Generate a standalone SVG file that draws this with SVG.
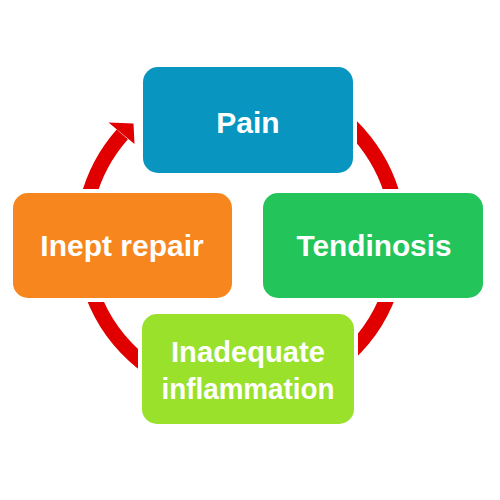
<svg xmlns="http://www.w3.org/2000/svg" width="500" height="500" viewBox="0 0 500 500">
<style>
.pad{fill:#ffffff}
.lbl{font-family:"Liberation Sans",Arial,sans-serif;font-weight:700;font-size:30px;fill:#ffffff;text-anchor:middle}
.arc{fill:none;stroke:#E00000;stroke-width:15}
</style>
<rect width="500" height="500" fill="#ffffff"/>
<g id="connectors">
<path class="arc" d="M145.44,112.97 A158,158 0 1 1 122.3,134.4"/>
<polygon points="108.5,122.5 133.5,123.5 134.5,144" fill="#E00000"/>
</g>
<g id="node-pain">
<rect class="pad" x="139" y="63" width="218" height="114" rx="19"/>
<rect x="143" y="67" width="210" height="106" rx="15" fill="#0896C0"/>
<text class="lbl" x="248" y="133">Pain</text>
</g>
<g id="node-tendinosis">
<rect class="pad" x="259" y="189" width="228" height="113" rx="19"/>
<rect x="263" y="193" width="220" height="105" rx="15" fill="#23C55A"/>
<text class="lbl" x="374" y="256" textLength="155" lengthAdjust="spacingAndGlyphs">Tendinosis</text>
</g>
<g id="node-inept">
<rect class="pad" x="9" y="189" width="227" height="113" rx="19"/>
<rect x="13" y="193" width="219" height="105" rx="15" fill="#F8861E"/>
<text class="lbl" x="122" y="256">Inept repair</text>
</g>
<g id="node-inadequate">
<rect class="pad" x="138" y="310" width="220" height="118" rx="19"/>
<rect x="142" y="314" width="212" height="110" rx="15" fill="#99E12B"/>
<text class="lbl" x="248" y="362" textLength="154" lengthAdjust="spacingAndGlyphs">Inadequate</text>
<text class="lbl" x="248" y="399" textLength="173" lengthAdjust="spacingAndGlyphs">inflammation</text>
</g>
</svg>
